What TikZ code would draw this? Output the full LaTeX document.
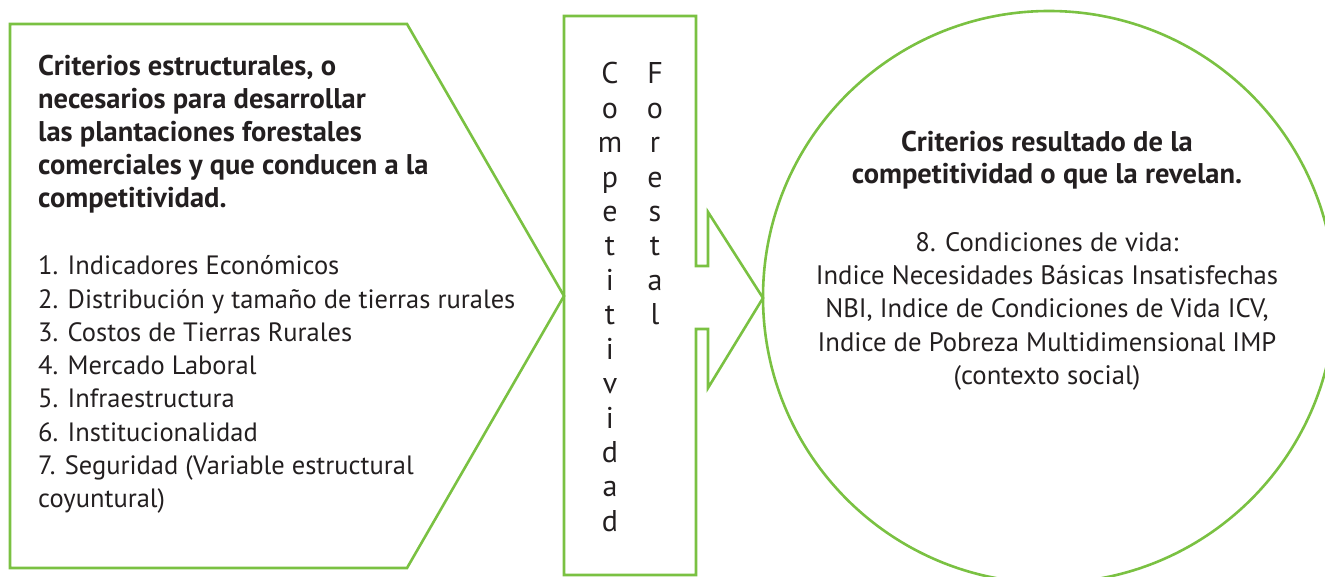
\documentclass[tikz,border=0pt]{standalone}
\usepackage{fontspec}
\setmainfont{PT Sans}
\definecolor{hoja}{RGB}{122,193,66}
\definecolor{tinta}{RGB}{35,31,32}
\tikzset{
  verde/.style={draw=hoja, line width=2.6pt, line join=miter},
  texto/.style={inner sep=0pt, text=tinta, font=\fontsize{26.5}{30}\selectfont},
  negrita/.style={texto, font=\fontsize{28.5}{30}\selectfont\bfseries},
  circulo/.style={inner sep=0pt, text=tinta, font=\fontsize{26.7}{30}\selectfont},
  letra/.style={inner sep=0pt, text=tinta, font=\fontsize{30}{30}\selectfont}
}
\begin{document}
\begin{tikzpicture}[x=1pt,y=-1pt]
\useasboundingbox (0,0) rectangle (1325,577);

% formas
\draw [verde] (10,24) -- (407,24) -- (564,296) -- (407,568) -- (10,568) -- cycle;
\draw [verde] (696,266) -- (708,266) -- (708,212) -- (763,298) -- (708,388) -- (708,329)
  -- (696,329) -- (696,575) -- (564,575) -- (564,16) -- (696,16) -- cycle;
\draw [verde] (1049,297) circle [radius=286];

% criterios estructurales
\foreach \linea [count=\i] in {{Criterios estructurales, o}, {necesarios para desarrollar},
  {las plantaciones forestales}, {comerciales y que conducen a la}, {competitividad.}}
  \node [negrita, anchor=base west] (est\i) at (38,{76+33*(\i-1)}) {\linea};
\foreach \linea [count=\i] in {{1. Indicadores Económicos}, {2. Distribución y tamaño de tierras rurales},
  {3. Costos de Tierras Rurales}, {4. Mercado Laboral}, {5. Infraestructura},
  {6. Institucionalidad}, {7. Seguridad (Variable estructural}, {coyuntural)}}
  \node [texto, anchor=base west] (ind\i) at (38,{275+33.2*(\i-1)}) {\linea};

% competitividad forestal
\foreach \letra [count=\i] in {C,o,m,p,e,t,i,t,i,v,i,d,a,d}
  \node [letra, anchor=base] (comp\i) at (610,{84+34.4*(\i-1)}) {\letra};
\foreach \letra [count=\i] in {F,o,r,e,s,t,a,l}
  \node [letra, anchor=base] (for\i) at (655,{84+34.4*(\i-1)}) {\letra};

% criterios resultado
\node [negrita, anchor=base] (res1) at (1047,152) {Criterios resultado de la};
\node [negrita, anchor=base] (res2) at (1047,184) {competitividad o que la revelan.};
\foreach \linea [count=\i] in {{8. Condiciones de vida:}, {Indice Necesidades Básicas Insatisfechas},
  {NBI, Indice de Condiciones de Vida ICV,}, {Indice de Pobreza Multidimensional IMP},
  {(contexto social)}}
  \node [circulo, anchor=base] (vida\i) at (1047,{252+33*(\i-1)}) {\linea};
\end{tikzpicture}
\end{document}
